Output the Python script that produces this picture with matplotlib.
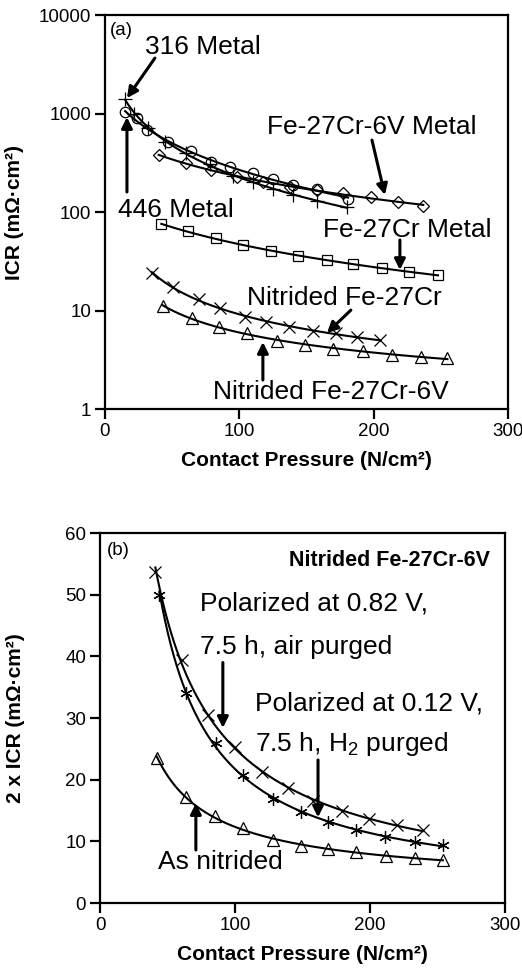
import numpy as np
import matplotlib
matplotlib.use("Agg")
import matplotlib.pyplot as plt

plt.rcParams['font.family'] = ['Liberation Sans', 'DejaVu Sans']
plt.rcParams['mathtext.fontset'] = 'custom'
plt.rcParams['mathtext.rm'] = 'Liberation Sans'
plt.rcParams['mathtext.it'] = 'Liberation Sans'
plt.rcParams['mathtext.bf'] = 'Liberation Sans:bold'

# (a) ICR vs contact pressure, log scale
p316 = [15, 22, 32, 45, 60, 78, 95, 110, 125, 140, 158, 180]
icr316 = [1400, 1000, 720, 520, 400, 310, 235, 200, 170, 150, 130, 112]
p446 = [15, 24, 31, 47, 64, 79, 93, 110, 125, 140, 158, 181]
icr446 = [1035, 900, 680, 515, 415, 325, 285, 250, 216, 187, 171, 135]
p_cr6v = [40, 60, 79, 98, 118, 138, 158, 177, 198, 218, 237]
icr_cr6v = [380, 315, 268, 227, 200, 180, 167, 155, 142, 126, 115]
p_cr = [42, 62, 83, 103, 124, 144, 165, 185, 206, 226, 248]
icr_cr = [75, 64, 54, 46, 40, 35.6, 32.6, 29.7, 27, 24.6, 23]
p_ncr = [35, 51, 70, 86, 104, 120, 137, 155, 172, 188, 205]
icr_ncr = [24, 17.3, 13.1, 10.6, 8.6, 7.6, 6.8, 6.2, 5.9, 5.4, 5.0]
p_ncr6v = [43, 65, 85, 106, 128, 149, 170, 192, 214, 235, 255]
icr_ncr6v = [11.1, 8.4, 6.8, 5.9, 4.9, 4.46, 4.06, 3.88, 3.54, 3.37, 3.3]

# (b) nitrided Fe-27Cr-6V after polarization
p_air = [41, 61, 80, 100, 120, 139, 158, 179, 199, 220, 239]
icr_air = [53.7, 39.4, 30.5, 25.3, 21.3, 18.6, 16.5, 15.0, 13.7, 12.6, 11.8]
p_h2 = [44, 64, 86, 106, 128, 149, 169, 190, 211, 233, 254]
icr_h2 = [50, 34, 25.9, 20.8, 16.8, 14.7, 13.2, 11.8, 10.7, 9.9, 9.4]
p_asn = [42, 64, 85, 106, 128, 149, 169, 190, 212, 233, 254]
icr_asn = [23.5, 17.2, 14.1, 12.2, 10.2, 9.2, 8.7, 8.2, 7.7, 7.3, 7.0]


def fit_line(ax, x, y):
    # smooth trend through the points (quadratic in log-log space)
    lx, ly = np.log(x), np.log(y)
    c = np.polyfit(lx, ly, 2)
    xs = np.linspace(min(x), max(x), 200)
    ax.plot(xs, np.exp(np.polyval(c, np.log(xs))), 'k-', lw=1.5, zorder=2)


def series(ax, x, y, marker, ms=7.5):
    fit_line(ax, x, y)
    ax.plot(x, y, linestyle='none', marker=marker, ms=ms, mfc='none',
            mec='k', mew=0.9, color='k', zorder=3)


def arrow(ax, start, end):
    ax.annotate('', xy=end, xytext=start,
                arrowprops=dict(arrowstyle='-|>', color='k', lw=2.2,
                                mutation_scale=16, shrinkA=0, shrinkB=0))


def style(ax):
    for s in ax.spines.values():
        s.set_linewidth(1.6)
    ax.tick_params(which='major', direction='out', length=7, width=1.6,
                   labelsize=13.5, pad=3)
    ax.tick_params(which='minor', length=0)


fig = plt.figure(figsize=(5.22, 9.75), dpi=100)
ax1 = fig.add_axes([0.201, 0.5805, 0.772, 0.404])
ax2 = fig.add_axes([0.1916, 0.0738, 0.7758, 0.3795])

fs = 19

series(ax1, p316, icr316, '+', ms=10)
series(ax1, p446, icr446, 'o')
series(ax1, p_cr6v, icr_cr6v, 'D', ms=6)
series(ax1, p_cr, icr_cr, 's')
series(ax1, p_ncr, icr_ncr, 'x', ms=9)
series(ax1, p_ncr6v, icr_ncr6v, '^', ms=8)

ax1.set_yscale('log')
ax1.set_xlim(0, 300)
ax1.set_ylim(1, 10000)
ax1.set_xticks([0, 100, 200, 300])
ax1.set_yticks([1, 10, 100, 1000, 10000])
ax1.set_yticklabels(['1', '10', '100', '1000', '10000'])
style(ax1)
ax1.set_xlabel('Contact Pressure (N/cm²)', fontsize=15, fontweight='bold', labelpad=8)
ax1.set_ylabel('ICR (mΩ·cm²)', fontsize=15, fontweight='bold')
ax1.yaxis.set_label_coords(-0.2, 0.5)

ax1.text(3.7, 7000, '(a)', fontsize=13.5, va='center')
ax1.text(29.8, 4730, '316 Metal', fontsize=fs, va='center')
arrow(ax1, (37.2, 3660), (16.4, 1436))
ax1.text(9.7, 105, '446 Metal', fontsize=fs, va='center')
arrow(ax1, (16.4, 160), (16.4, 921))
ax1.text(120.6, 729, 'Fe-27Cr-6V Metal', fontsize=fs, va='center')
arrow(ax1, (198.8, 538), (208.4, 149))
ax1.text(162.3, 65.6, 'Fe-27Cr Metal', fontsize=fs, va='center')
arrow(ax1, (219.6, 52), (219.6, 25.8))
ax1.text(105.7, 13.4, 'Nitrided Fe-27Cr', fontsize=fs, va='center')
arrow(ax1, (183.1, 10.1), (165.3, 5.91))
ax1.text(80.4, 1.49, 'Nitrided Fe-27Cr-6V', fontsize=fs, va='center')
arrow(ax1, (117.6, 1.97), (117.6, 4.79))

series(ax2, p_air, icr_air, 'x', ms=9)
series(ax2, p_h2, icr_h2, (6, 2, 0), ms=9)
series(ax2, p_asn, icr_asn, '^', ms=8)

ax2.set_xlim(0, 300)
ax2.set_ylim(0, 60)
ax2.set_xticks([0, 100, 200, 300])
ax2.set_yticks(range(0, 61, 10))
style(ax2)
ax2.set_xlabel('Contact Pressure (N/cm²)', fontsize=15, fontweight='bold', labelpad=8)
ax2.set_ylabel('2 x ICR (mΩ·cm²)', fontsize=15, fontweight='bold')
ax2.yaxis.set_label_coords(-0.185, 0.5)

ax2.text(5.2, 57.2, '(b)', fontsize=13.5, va='center')
ax2.text(288.9, 55.6, 'Nitrided Fe-27Cr-6V', fontsize=15.5, fontweight='bold',
         va='center', ha='right')
ax2.text(74, 48.6, 'Polarized at 0.82 V,', fontsize=fs, va='center')
ax2.text(74, 41.5, '7.5 h, air purged', fontsize=fs, va='center')
arrow(ax2, (91, 39), (91, 28.4))
ax2.text(114.8, 32.4, 'Polarized at 0.12 V,', fontsize=fs, va='center')
ax2.text(114.8, 25.8, r'7.5 h, H$\mathregular{_2}$ purged', fontsize=fs, va='center')
arrow(ax2, (161.5, 23.2), (161.5, 13.9))
ax2.text(43, 6.6, 'As nitrided', fontsize=fs, va='center')
arrow(ax2, (71, 8.6), (71, 16.2))

fig.savefig('out.png', dpi=100)
